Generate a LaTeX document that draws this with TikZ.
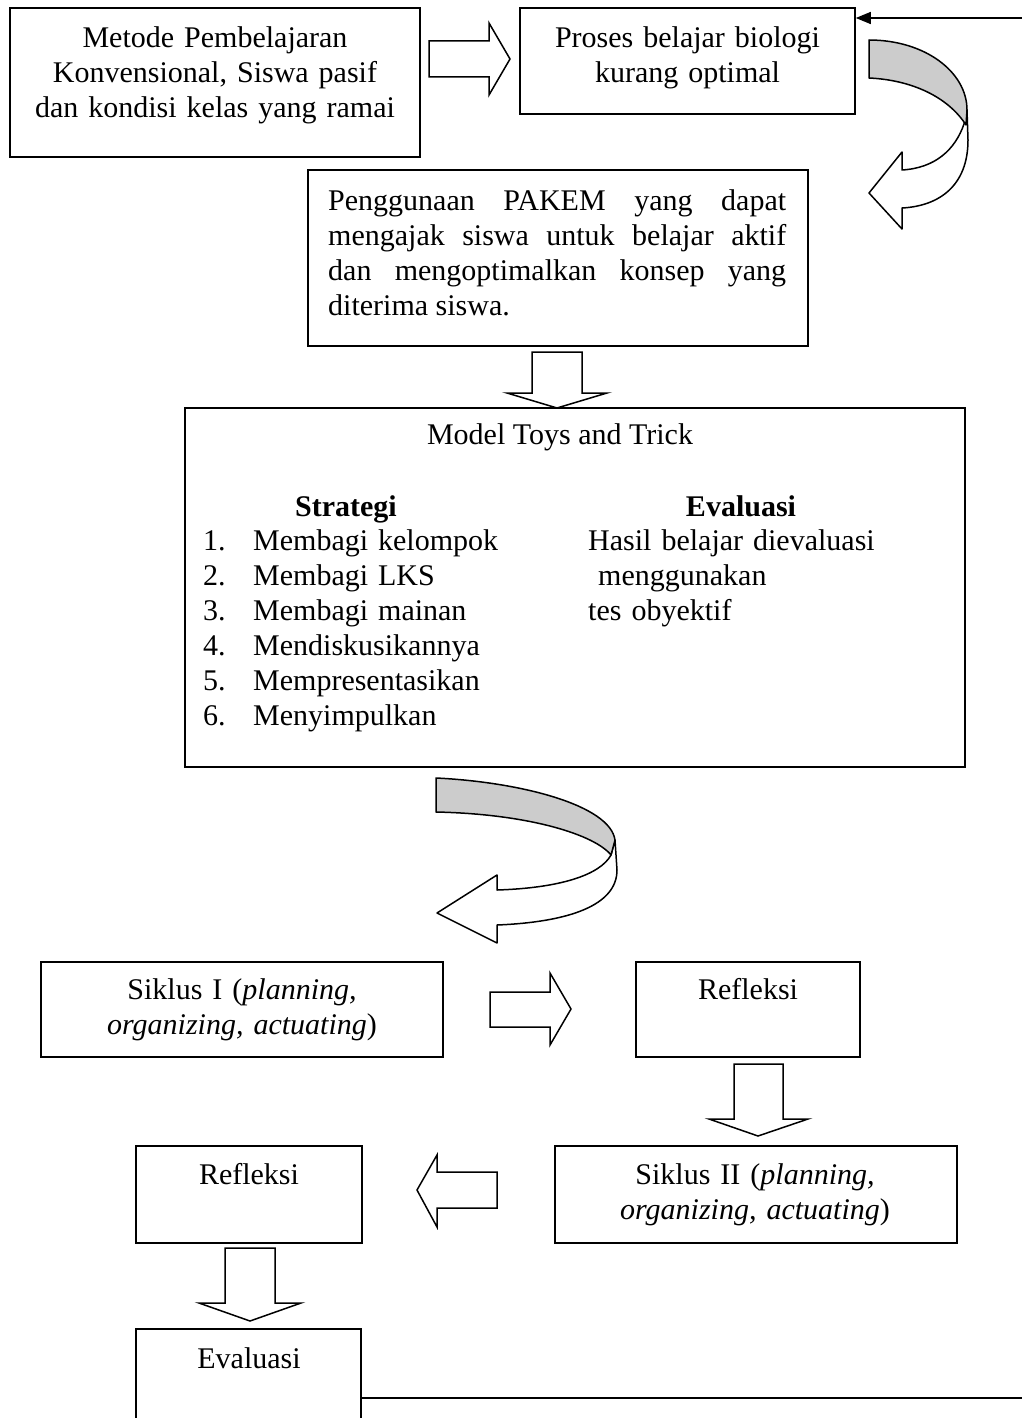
\documentclass[tikz,border=0pt]{standalone}
\usepackage{fontspec}
\setmainfont{Liberation Serif}
\usepackage{tikz}
\usetikzlibrary{arrows.meta,positioning,calc}
\tikzset{box/.style={draw=black,line width=1.6pt,inner sep=0pt},txt/.style={font=\fontsize{30}{35}\selectfont,inner sep=0pt,anchor=base},blk/.style={draw=black,line width=1.5pt,fill=white,line join=miter},turn/.style={draw=black,line width=1.5pt,line join=round},fb/.style={-{Triangle[length=15pt,width=12pt]},line width=1.5pt}}

\begin{document}
\begin{tikzpicture}[x=1pt,y=-1pt]
\useasboundingbox (0,0) rectangle (1022,1418);
\clip (0,0) rectangle (1022,1418);
\node[box,minimum width=410pt,minimum height=149pt] (metode) at (215,82.5) {};
\node[box,minimum width=335pt,minimum height=106pt] (proses) at (687.5,61) {};
\node[box,minimum width=500pt,minimum height=176pt] (pakem) at (558,258) {};
\node[box,minimum width=780pt,minimum height=359pt] (model) at (575,587.5) {};
\node[box,minimum width=402pt,minimum height=95pt] (siklusA) at (242,1009.5) {};
\node[box,minimum width=224pt,minimum height=95pt] (refleksiA) at (748,1009.5) {};
\node[box,minimum width=402pt,minimum height=97pt] (siklusB) at (756,1194.5) {};
\node[box,minimum width=226pt,minimum height=97pt] (refleksiB) at (249,1194.5) {};
\node[box,minimum width=225pt,minimum height=138pt] (evaluasi) at (248.5,1398) {};
\node[txt,text width=400pt,align=center] (metodetxt) at (215,48) {Metode Pembelajaran\\Konvensional, Siswa pasif\\dan kondisi kelas yang ramai};
\node[txt,text width=330pt,align=center] (prosestxt) at (687.5,48) {Proses belajar biologi\\kurang optimal};
\node[txt,text width=458pt,align=justify,anchor=base west] (pakemtxt) at (328,210) {Penggunaan PAKEM yang dapat\linebreak mengajak siswa untuk belajar aktif\linebreak dan mengoptimalkan konsep yang\linebreak diterima siswa.};
\node[txt] (modeltxt) at (560,444) {Model Toys and Trick};
\node[txt] (strategi) at (346,516) {\textbf{Strategi}};
\node[txt] (evalhead) at (741,516) {\textbf{Evaluasi}};
\node[txt,text width=320pt,align=left,anchor=base west] (langkah) at (203,550) {\makebox[50pt][l]{1.}Membagi kelompok\\\makebox[50pt][l]{2.}Membagi LKS\\\makebox[50pt][l]{3.}Membagi mainan\\\makebox[50pt][l]{4.}Mendiskusikannya\\\makebox[50pt][l]{5.}Mempresentasikan\\\makebox[50pt][l]{6.}Menyimpulkan};
\node[txt,text width=340pt,align=left,anchor=base west] (hasil) at (588,550) {Hasil belajar dievaluasi\\\hspace*{10pt}menggunakan\\tes obyektif};
\node[txt,text width=400pt,align=center] (siklusAtxt) at (242,999) {Siklus I (\textit{planning,}\\\textit{organizing, actuating})};
\node[txt] (refleksiAtxt) at (748,999) {Refleksi};
\node[txt,text width=400pt,align=center] (siklusBtxt) at (755,1184) {Siklus II (\textit{planning,}\\\textit{organizing, actuating})};
\node[txt] (refleksiBtxt) at (249,1184) {Refleksi};
\node[txt] (evaluasitxt) at (249,1368) {Evaluasi};
% block arrows
\draw[blk] (429,41) -- (489,41) -- (489,23) -- (510,59) -- (489,95) -- (489,77) -- (429,77) -- cycle;
\draw[blk] (532,352) -- (582,352) -- (582,393) -- (607,393) -- (557,408) -- (507,393) -- (532,393) -- cycle;
\draw[blk] (490,992) -- (550,992) -- (550,973) -- (571,1009) -- (550,1045) -- (550,1027) -- (490,1027) -- cycle;
\draw[blk] (734,1064) -- (783,1064) -- (783,1119) -- (808,1119) -- (758,1136) -- (709,1119) -- (734,1119) -- cycle;
\draw[blk] (497,1172) -- (437,1172) -- (437,1155) -- (417,1190) -- (437,1227) -- (437,1208) -- (497,1208) -- cycle;
\draw[blk] (225,1248) -- (275,1248) -- (275,1303) -- (301,1303) -- (250,1321) -- (199,1303) -- (225,1303) -- cycle;
% curved arrows
\filldraw[turn,fill=white] (967,110) -- (968,140) .. controls (968,185) and (940,206) .. (902,208) -- (902,229) -- (869,193) -- (902,152) -- (902,170) .. controls (935,168) and (955,150) .. (964,124) -- cycle;
\filldraw[turn,fill=black!20] (869,40) .. controls (925,40) and (967,72) .. (967,110) -- (966,125) .. controls (948,97) and (912,80) .. (869,78) -- cycle;
\filldraw[turn,fill=white] (615,840) -- (617,870) .. controls (617,905) and (570,922) .. (497,925) -- (497,943) -- (437,913) -- (497,875) -- (497,890) .. controls (560,888) and (600,875) .. (611,855) -- cycle;
\filldraw[turn,fill=black!20] (436,778) .. controls (520,782) and (610,805) .. (615,840) -- (611,855) .. controls (595,835) and (530,814) .. (436,812) -- cycle;
% feedback
\coordinate (fbtop) at (1040,18);
\draw[fb] (evaluasi.east) -| (fbtop) -- (fbtop -| proses.east);
\end{tikzpicture}
\end{document}
